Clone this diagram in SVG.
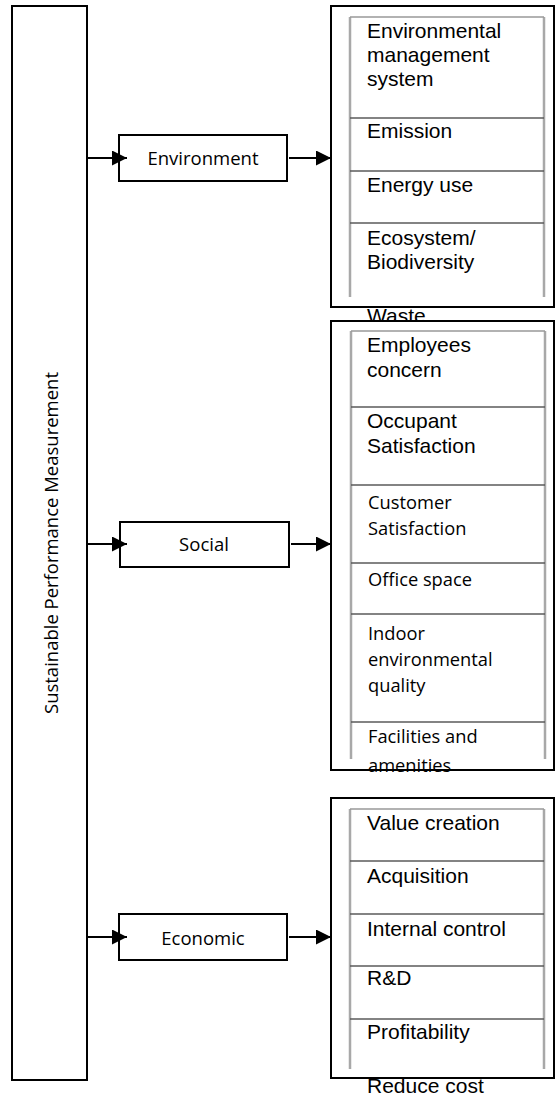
<svg xmlns="http://www.w3.org/2000/svg" width="556" height="1097" viewBox="0 0 556 1097">
<defs>
<style>
.box{fill:#fff;stroke:#000;stroke-width:2}
.vl{stroke:#a8a8a8;stroke-width:2.5}
.hl{stroke:#5a5a5a;stroke-width:1.5}
.tl{stroke:#999;stroke-width:1.5}
.conn{stroke:#000;stroke-width:2;fill:none;marker-end:url(#ah)}
.cal{font-family:"Open Sans","Liberation Sans",sans-serif;font-size:18.5px;fill:#000}
.ar{font-family:"Liberation Sans",Arial,sans-serif;font-size:21px;fill:#000}
.ca2{font-family:"Open Sans","Liberation Sans",sans-serif;font-size:18.3px;fill:#000}
</style>
<marker id="ah" markerUnits="userSpaceOnUse" markerWidth="16" markerHeight="15" refX="15" refY="7.5" orient="auto">
<path d="M0,0 L15,7.5 L0,15 z" fill="#000"/>
</marker>
</defs>
<rect width="556" height="1097" fill="#fff"/>

<g id="root">
<rect class="box" x="12" y="6" width="75" height="1074"/>
<text class="cal" x="58" y="543" text-anchor="middle" textLength="342" lengthAdjust="spacingAndGlyphs" transform="rotate(-90 58 543)" style="font-size:19px">Sustainable Performance Measurement</text>
</g>

<g id="environment">
<rect class="box" x="119" y="135" width="168" height="46"/>
<text class="cal" x="203" y="165" text-anchor="middle">Environment</text>
</g>
<g id="social">
<rect class="box" x="120" y="522" width="169" height="45"/>
<text class="cal" x="204" y="551" text-anchor="middle">Social</text>
</g>
<g id="economic">
<rect class="box" x="119" y="914" width="168" height="46"/>
<text class="cal" x="203" y="945" text-anchor="middle">Economic</text>
</g>

<g id="env-list">
<rect class="box" x="331" y="6" width="223" height="301"/>
<line class="vl" x1="350" y1="17" x2="350" y2="297"/>
<line class="vl" x1="544" y1="17" x2="544" y2="297"/>
<line class="tl" x1="350" y1="17" x2="544" y2="17"/>
<line class="hl" x1="350" y1="118" x2="544" y2="118"/>
<line class="hl" x1="350" y1="171" x2="544" y2="171"/>
<line class="hl" x1="350" y1="223" x2="544" y2="223"/>
<text class="ar" x="367" y="38">Environmental</text>
<text class="ar" x="367" y="62">management</text>
<text class="ar" x="367" y="86">system</text>
<text class="ar" x="367" y="138">Emission</text>
<text class="ar" x="367" y="192">Energy use</text>
<text class="ar" x="367" y="245">Ecosystem/</text>
<text class="ar" x="367" y="269">Biodiversity</text>
<text class="ar" x="367" y="323">Waste</text>
</g>

<g id="social-list">
<rect class="box" x="331" y="321" width="223" height="449"/>
<line class="vl" x1="351" y1="331" x2="351" y2="759"/>
<line class="vl" x1="545" y1="331" x2="545" y2="759"/>
<line class="tl" x1="351" y1="331" x2="545" y2="331"/>
<line class="hl" x1="351" y1="407" x2="545" y2="407"/>
<line class="hl" x1="351" y1="485" x2="545" y2="485"/>
<line class="hl" x1="351" y1="563" x2="545" y2="563"/>
<line class="hl" x1="351" y1="614" x2="545" y2="614"/>
<line class="hl" x1="351" y1="722" x2="545" y2="722"/>
<text class="ar" x="367" y="352">Employees</text>
<text class="ar" x="367" y="377">concern</text>
<text class="ar" x="367" y="428">Occupant</text>
<text class="ar" x="367" y="453">Satisfaction</text>
<text class="ca2" x="368" y="509">Customer</text>
<text class="ca2" x="368" y="535">Satisfaction</text>
<text class="ca2" x="368" y="586">Office space</text>
<text class="ca2" x="368" y="640">Indoor</text>
<text class="ca2" x="368" y="666">environmental</text>
<text class="ca2" x="368" y="692">quality</text>
<text class="ca2" x="368" y="743">Facilities and</text>
<text class="ca2" x="368" y="772">amenities</text>
<line x1="331" y1="770" x2="554" y2="770" stroke="#000" stroke-width="2"/>
</g>

<g id="econ-list">
<rect class="box" x="331" y="798" width="223" height="280"/>
<line class="vl" x1="350" y1="809" x2="350" y2="1069"/>
<line class="vl" x1="544" y1="809" x2="544" y2="1069"/>
<line class="tl" x1="350" y1="809" x2="544" y2="809"/>
<line class="hl" x1="350" y1="861" x2="544" y2="861"/>
<line class="hl" x1="350" y1="914" x2="544" y2="914"/>
<line class="hl" x1="350" y1="966" x2="544" y2="966"/>
<line class="hl" x1="350" y1="1019" x2="544" y2="1019"/>
<text class="ar" x="367" y="830">Value creation</text>
<text class="ar" x="367" y="883">Acquisition</text>
<text class="ar" x="367" y="936">Internal control</text>
<text class="ar" x="367" y="985">R&amp;D</text>
<text class="ar" x="367" y="1039">Profitability</text>
<text class="ar" x="367" y="1093">Reduce cost</text>
</g>

<g id="connectors">
<line class="conn" x1="87" y1="158" x2="127" y2="158"/>
<line class="conn" x1="289" y1="158" x2="331" y2="158"/>
<line class="conn" x1="87" y1="544" x2="127" y2="544"/>
<line class="conn" x1="291" y1="544" x2="331" y2="544"/>
<line class="conn" x1="87" y1="937" x2="127" y2="937"/>
<line class="conn" x1="289" y1="937" x2="331" y2="937"/>
</g>
</svg>
